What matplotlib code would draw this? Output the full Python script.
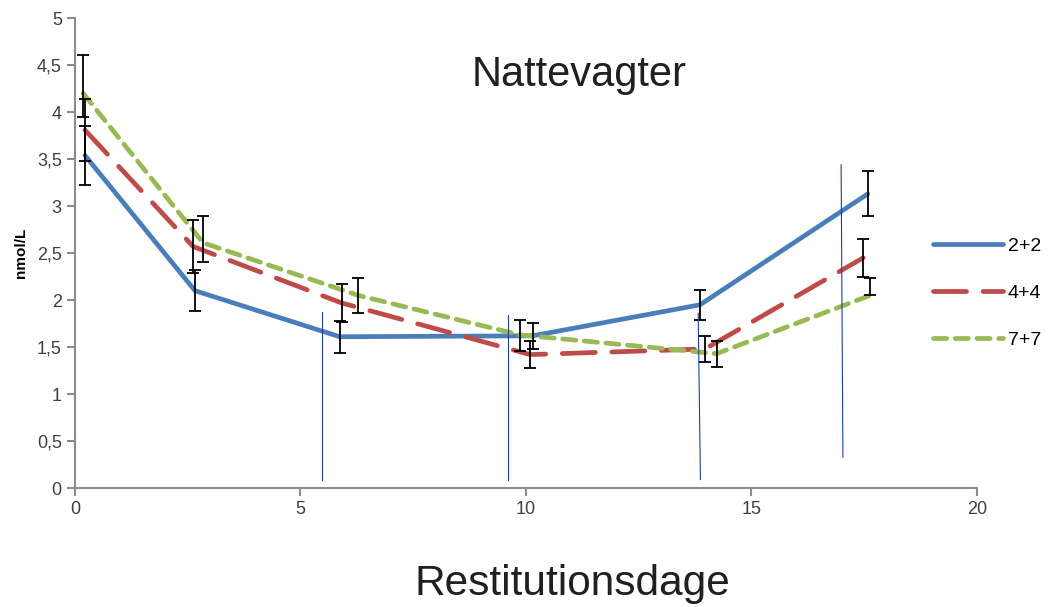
import numpy as np
import matplotlib.pyplot as plt
from matplotlib.ticker import FuncFormatter, MultipleLocator

plt.rcParams['font.family'] = ['Liberation Sans', 'DejaVu Sans']

# data
x_22 = [0.22, 2.66, 5.87, 10.15, 13.86, 17.58]
y_22 = [3.54, 2.10, 1.61, 1.62, 1.95, 3.13]
err_22 = [0.31, 0.22, 0.17, 0.14, 0.16, 0.24]

x_44 = [0.22, 2.62, 5.91, 10.09, 13.97, 17.48]
y_44 = [3.81, 2.57, 1.97, 1.42, 1.48, 2.45]
err_44 = [0.33, 0.28, 0.20, 0.14, 0.14, 0.20]

x_77 = [0.18, 2.84, 6.28, 9.87, 14.23, 17.63]
y_77 = [4.20, 2.61, 2.05, 1.63, 1.43, 2.05]
err_77_lo = [0.25, 0.20, 0.19, 0.17, 0.14, 0.0]
err_77_hi = [0.41, 0.29, 0.19, 0.16, 0.13, 0.19]

# tynde blå markeringslinjer (x_bund, x_top, y_bund, y_top)
mark_x0 = [5.48, 9.60, 13.87, 17.03]
mark_x1 = [5.48, 9.60, 13.82, 16.99]
mark_y0 = [0.09, 0.09, 0.09, 0.33]
mark_y1 = [1.87, 1.84, 1.86, 3.44]

fig = plt.figure(figsize=(10.48, 6.07), dpi=100)
ax = fig.add_axes([0.0716, 0.196, 0.8605, 0.774])

blue = '#4a7ebb'
red = '#be4b48'
green = '#98b954'

ax.plot(x_22, y_22, color=blue, lw=3.4, label='2+2', zorder=3, solid_capstyle='round')
ax.plot(x_44, y_44, color=red, lw=3.4, dashes=(7, 3.5), label='4+4', zorder=3, dash_capstyle='round')
ax.plot(x_77, y_77, color=green, lw=3.4, dashes=(2.8, 1.8), label='7+7', zorder=3, dash_capstyle='round')

ax.errorbar(x_22, y_22, yerr=err_22, fmt='none', ecolor='black', elinewidth=1.3, capsize=4, capthick=1.3, zorder=4)
ax.errorbar(x_44, y_44, yerr=err_44, fmt='none', ecolor='black', elinewidth=1.3, capsize=4, capthick=1.3, zorder=4)
ax.errorbar(x_77, y_77, yerr=[err_77_lo, err_77_hi], fmt='none', ecolor='black', elinewidth=1.3, capsize=4, capthick=1.3, zorder=4)

for a, b, c, d in zip(mark_x0, mark_x1, mark_y0, mark_y1):
    ax.plot([a, b], [c, d], color='#1f3f9a', lw=0.8, zorder=5)

ax.set_xlim(0, 20)
ax.set_ylim(0, 5)
ax.xaxis.set_major_locator(MultipleLocator(5))
ax.yaxis.set_major_locator(MultipleLocator(0.5))
komma = FuncFormatter(lambda v, p: ('%g' % v).replace('.', ','))
ax.xaxis.set_major_formatter(komma)
ax.yaxis.set_major_formatter(komma)

for s in ['top', 'right']:
    ax.spines[s].set_visible(False)
for s in ['left', 'bottom']:
    ax.spines[s].set_color('#8c8c8c')
    ax.spines[s].set_linewidth(1.5)
ax.tick_params(colors='#8c8c8c', labelcolor='#404040', labelsize=13, length=6, width=1.5)

ax.set_ylabel('nmol/L', fontsize=11, fontweight='bold')
ax.yaxis.set_label_coords(-0.052, 0.50)

fig.text(0.553, 0.876, 'Nattevagter', fontsize=30, ha='center', va='center', color='#202020')
fig.text(0.546, 0.038, 'Restitutionsdage', fontsize=30.5, ha='center', va='center', color='#202020')

fig.legend(loc='center left', bbox_to_anchor=(0.8736, 0.517), frameon=False, fontsize=14,
           handlelength=3.6, labelspacing=1.5, handletextpad=0.25)

plt.savefig('out.png', dpi=100)
